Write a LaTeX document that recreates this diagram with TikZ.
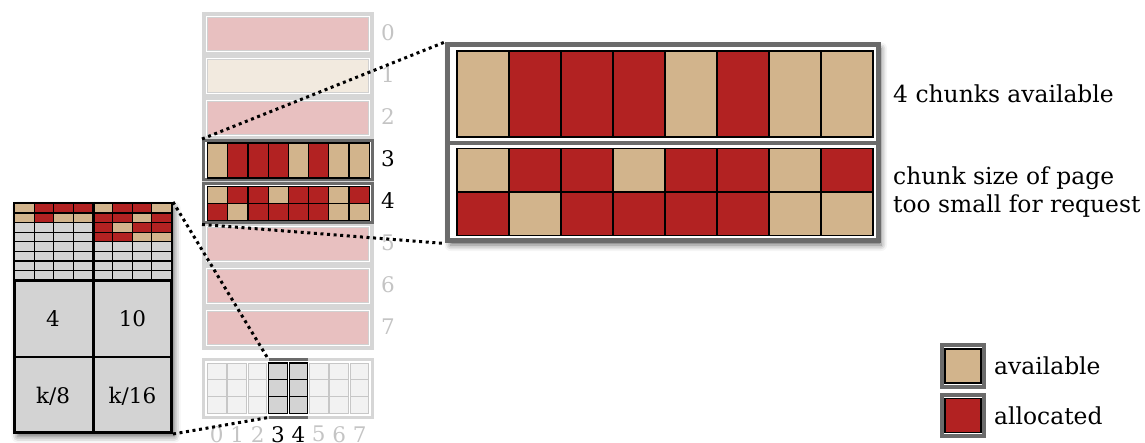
\documentclass[tikz,border=0pt]{standalone}
\usepackage{fontspec}
\setmainfont{DejaVu Serif}
\usepackage{tikz}
\usetikzlibrary{positioning,shadows.blur}

\definecolor{av}{HTML}{D2B48C}
\definecolor{al}{HTML}{B22222}
\definecolor{pg}{RGB}{232,192,192}
\definecolor{pgfree}{RGB}{242,234,223}
\definecolor{col}{RGB}{214,214,214}
\definecolor{frm}{RGB}{107,107,107}
\definecolor{dim}{RGB}{196,196,196}
\definecolor{lg}{RGB}{211,211,211}
\definecolor{slot}{RGB}{242,242,242}

% one row of chunks: x, y, width, height, colours
\newcommand\chunkrow[5]{%
  \foreach \c [count=\k from 0] in {#5}
    \draw[cell, fill=\c] ({#1+\k*#3},#2) rectangle ++(#3,#4);}

\begin{document}
\begin{tikzpicture}[x=1pt, y=-1pt,
  font=\fontsize{21.5}{26}\selectfont,
  cell/.style={draw=black, line width=1.2pt},
  frame/.style={draw=frm, line width=3pt, fill=white},
  shade/.style={blur shadow={shadow xshift=3pt, shadow yshift=-4pt, shadow blur radius=6pt, shadow opacity=60}},
  dots/.style={line width=3pt, dash pattern=on 3pt off 3.6pt},
  lbl/.style={inner sep=0pt, anchor=west, font=\fontsize{23.4}{28}\selectfont},
  num/.style={inner sep=0pt}
]
\useasboundingbox (0,0) rectangle (1145,443);

% page column
\fill[col] (202,12) rectangle (374,350);
\foreach \i/\c in {0/pg,1/pgfree,2/pg,5/pg,6/pg,7/pg} {
  \fill[white] (206,16+42*\i) rectangle (370,52+42*\i);
  \draw[fill=\c, draw=black!18, line width=0.8pt] (207.5,17.5+42*\i) rectangle (368.5,50.5+42*\i);
}
\node[frame, minimum width=169pt, minimum height=39.5pt] (p3) at (288,160.25) {};
\node[frame, minimum width=169pt, minimum height=39pt] (p4) at (288,203.5) {};
\chunkrow{207.5}{143}{20.2}{35}{av,al,al,al,av,al,av,av}
\chunkrow{207.5}{186.5}{20.2}{17}{av,al,al,av,al,al,av,al}
\chunkrow{207.5}{203.5}{20.2}{17}{al,av,al,al,al,al,av,av}
\foreach \k/\t in {0/dim,1/dim,2/dim,3/black,4/black,5/dim,6/dim,7/dim}
  \node[num, text=\t] (n\k) at (388,33+42*\k) {\k};

% size classes
\node[frame, minimum width=169pt, minimum height=58pt] (slots) at (288,388.5) {};
\foreach \k in {0,...,7}
  \foreach \r in {0,1,2}
    \draw[fill=slot, draw=black!22, line width=1pt] (207.5+20.4*\k,363+16.7*\r) rectangle ++(18.6,16.7);
\foreach \k in {3,4}
  \foreach \r in {0,1,2}
    \draw[fill=lg, draw=black, line width=1.2pt] (207.5+20.4*\k,363+16.7*\r) rectangle ++(18.6,16.7);
\draw[col, line width=3pt] (slots.north west) ++(1.5,1.5) rectangle ([shift={(-1.5,-1.5)}]slots.south east);
\coordinate (s3t) at (268.5,359.5);
\coordinate (s3b) at (268.5,417.5);
\draw[frm, line width=3pt] (s3t) -- ++(39.5,0);
\draw[frm, line width=3pt] (s3b) -- ++(39.5,0);
\foreach \k/\t in {0/dim,1/dim,2/dim,3/black,4/black,5/dim,6/dim,7/dim}
  \node[num, text=\t] (b\k) at (216.8+20.4*\k,434.2) {\k};

% size class table
\node[draw=black, line width=3pt, fill=lg, minimum width=157pt, minimum height=229pt, shade] (lbox) at (93,318) {};
\fill (14.5,203.5) rectangle (171.5,280.3);
\chunkrow{14.5}{203.5}{19.625}{9.6}{av,al,al,al,av,al,al,av}
\chunkrow{14.5}{213.1}{19.625}{9.6}{av,al,av,av,al,al,av,al}
\chunkrow{14.5}{222.7}{19.625}{9.6}{lg,lg,lg,lg,al,av,al,al}
\chunkrow{14.5}{232.3}{19.625}{9.6}{lg,lg,lg,lg,al,al,av,av}
\foreach \r in {0,...,3}
  \chunkrow{14.5}{241.9+9.6*\r}{19.625}{9.6}{lg,lg,lg,lg,lg,lg,lg,lg}
\draw[line width=3pt] (14.5,280.3) -- (171.5,280.3);
\draw[line width=2pt] (14.5,357) -- (171.5,357);
\draw[line width=3pt] (lbox.north) -- (lbox.south);
\node (c4) at (53,319) {4};
\node (c10) at (132.5,319) {10};
\node (c8) at (53,396) {k/8};
\node (c16) at (132.5,396) {k/16};

% magnified pages
\node[frame, line width=5pt, minimum width=430.5pt, minimum height=196.5pt, shade] (zoom) at (662.75,142.75) {};
\draw[frm, line width=4pt] (zoom.west) -- (zoom.east);
\chunkrow{457}{51}{52}{86}{av,al,al,al,av,al,av,av}
\chunkrow{457}{148.5}{52}{43.5}{av,al,al,av,al,al,av,al}
\chunkrow{457}{192}{52}{43.5}{al,av,al,al,al,al,av,av}
\node[lbl] (t1) at (893,94) {4 chunks available};
\node[lbl, align=left] (t2) at (893,192.5) {chunk size of page\\too small for request};

% legend
\node[frame, line width=4pt, minimum width=42pt, minimum height=42pt] (kav) at (963,366) {};
\draw[cell, fill=av] (kav.center) +(-18,-17) rectangle +(18,17);
\node[lbl, right=8pt of kav] (tav) {available};
\node[frame, line width=4pt, minimum width=42pt, minimum height=41.5pt] (kal) at (963,415.5) {};
\draw[cell, fill=al] (kal.center) +(-18,-17) rectangle +(18,17);
\node[lbl, right=8pt of kal] (tal) {allocated};

% zoom lines
\draw[dots] (p3.north west) -- (zoom.north west);
\draw[dots] (p4.south west) -- (zoom.south west);
\draw[dots] (lbox.north east) -- (s3t);
\draw[dots] (lbox.south east) -- (s3b);
\end{tikzpicture}
\end{document}
